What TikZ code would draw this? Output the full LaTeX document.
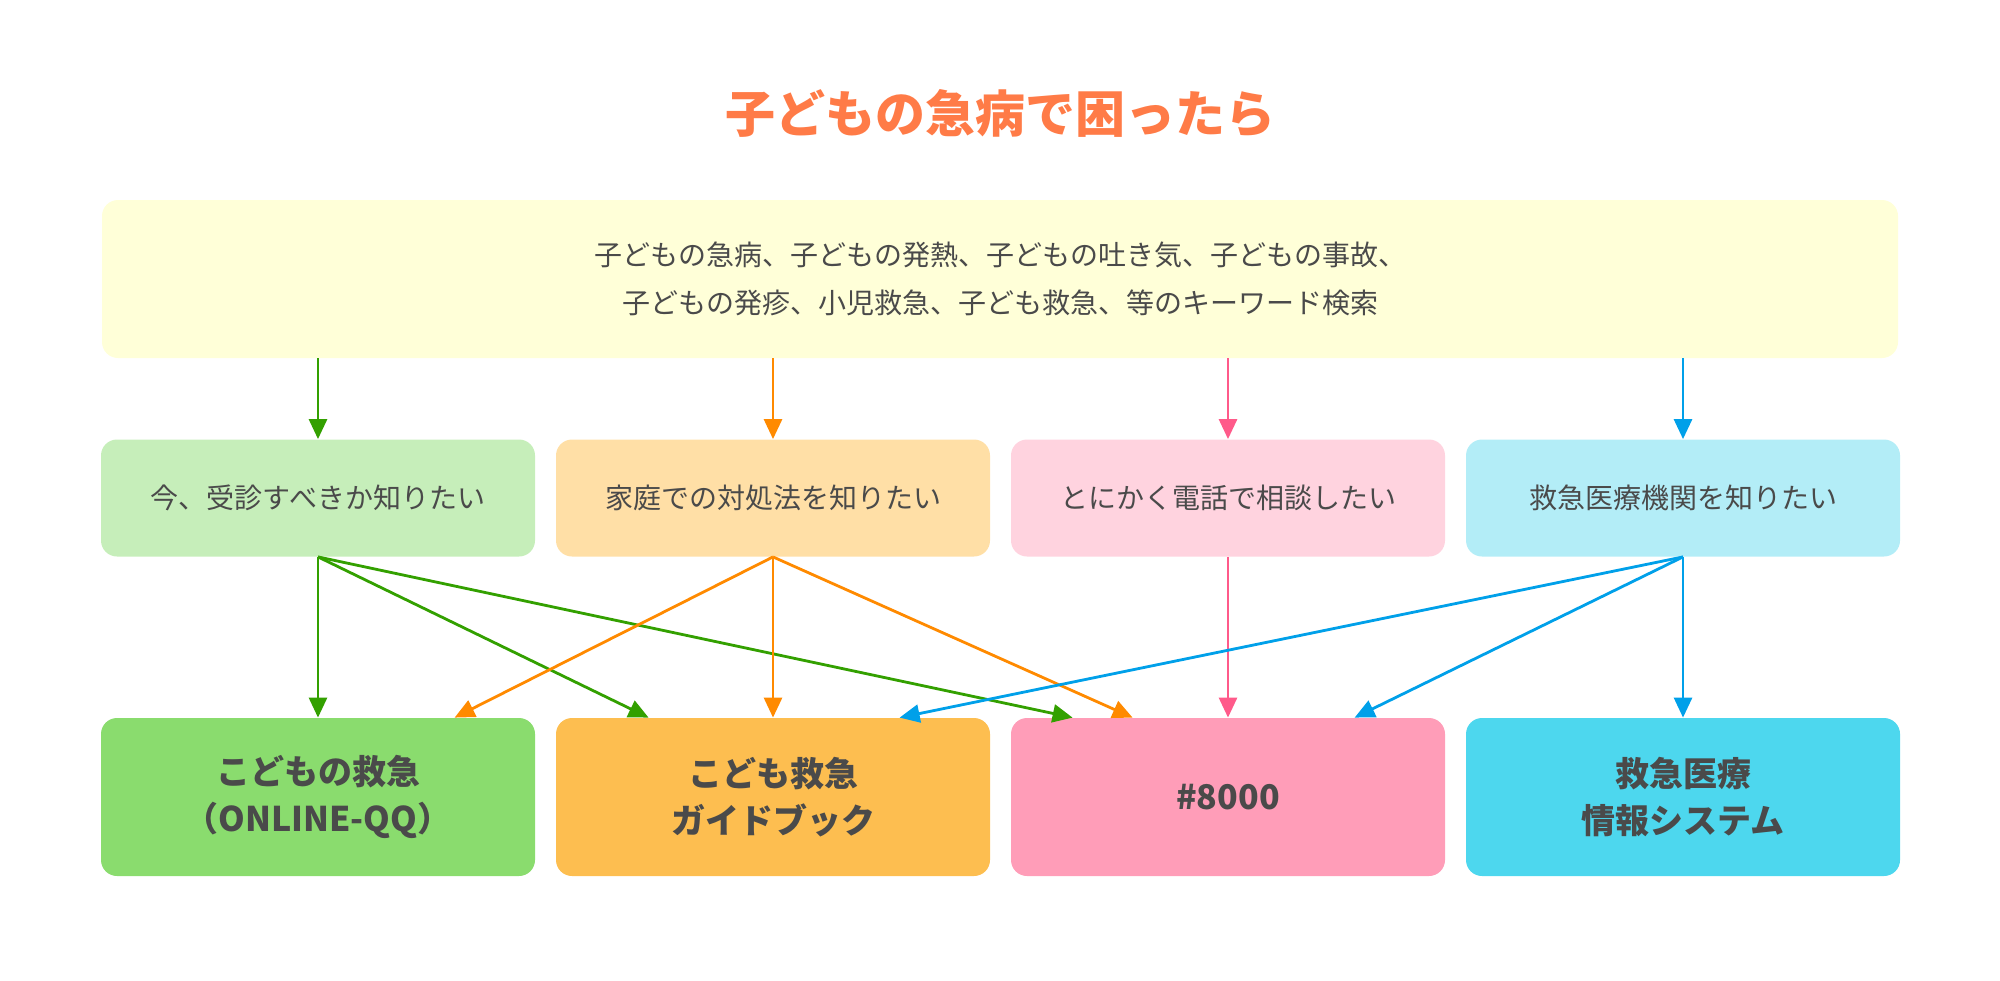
\documentclass[tikz,border=0pt]{standalone}
\usepackage{fontspec}
\setmainfont{Noto Sans CJK JP}
\usetikzlibrary{arrows.meta}

\definecolor{titleorange}{HTML}{FF7B47}
\definecolor{textgray}{HTML}{4A4A4A}
\definecolor{keyyellow}{HTML}{FFFFD8}
\definecolor{qgreen}{HTML}{C6EEBA}
\definecolor{qorange}{HTML}{FFDFA6}
\definecolor{qpink}{HTML}{FFD3DF}
\definecolor{qblue}{HTML}{B3EDF7}
\definecolor{sgreen}{HTML}{8ADC6E}
\definecolor{sorange}{HTML}{FDBE50}
\definecolor{spink}{HTML}{FF9DB8}
\definecolor{sblue}{HTML}{4DD7EE}
\definecolor{lgreen}{HTML}{33A000}
\definecolor{lorange}{HTML}{FF8A00}
\definecolor{lpink}{HTML}{FF5A8A}
\definecolor{lblue}{HTML}{00A0E9}

\begin{document}
\begin{tikzpicture}[x=0.5pt,y=-0.5pt,>={Triangle[length=10pt,width=9pt]},
    qbox/.style={minimum width=217pt,minimum height=58.5pt,font=\fontsize{14}{20}\selectfont},
    sbox/.style={minimum width=217pt,minimum height=79pt,font=\bfseries\fontsize{17}{23.5}\selectfont}]
\useasboundingbox (0,0) rectangle (2000,980);

\node[text=titleorange,font=\bfseries\fontsize{25}{30}\selectfont] (title) at (1000,113) {子どもの急病で困ったら};

\begin{scope}[every node/.style={rounded corners=8pt,inner sep=0pt,align=center,text=textgray}]
    \node[fill=keyyellow,minimum width=898pt,minimum height=79pt,font=\fontsize{14}{24}\selectfont] (k) at (1000,279)
        {子どもの急病、子どもの発熱、子どもの吐き気、子どもの事故、\\子どもの発疹、小児救急、子ども救急、等のキーワード検索};
    \node[qbox,fill=qgreen] (q1) at (318,498) {今、受診すべきか知りたい};
    \node[qbox,fill=qorange] (q2) at (773,498) {家庭での対処法を知りたい};
    \node[qbox,fill=qpink] (q3) at (1228,498) {とにかく電話で相談したい};
    \node[qbox,fill=qblue] (q4) at (1683,498) {救急医療機関を知りたい};
    \node[sbox,fill=sgreen] (s1) at (318,797) {こどもの救急\\（ONLINE-QQ）};
    \node[sbox,fill=sorange] (s2) at (773,797) {こども救急\\ガイドブック};
    \node[sbox,fill=spink] (s3) at (1228,797) {\#8000};
    \node[sbox,fill=sblue] (s4) at (1683,797) {救急医療\\情報システム};
\end{scope}

\begin{scope}[line width=1.4pt]
    \draw[->,lgreen] (k.south -| q1.north) -- (q1.north);
    \draw[->,lorange] (k.south -| q2.north) -- (q2.north);
    \draw[->,lpink] (k.south -| q3.north) -- (q3.north);
    \draw[->,lblue] (k.south -| q4.north) -- (q4.north);

    \draw[->,lgreen] (q1.south) -- (s1.north);
    \draw[->,lgreen] (q1.south) -- ([xshift=46.5pt]s2.north west);
    \draw[->,lgreen] (q1.south) -- ([xshift=31pt]s3.north west);
    \draw[->,lorange] (q2.south) -- ([xshift=177pt]s1.north west);
    \draw[->,lorange] (q2.south) -- (s2.north);
    \draw[->,lorange] (q2.south) -- ([xshift=61pt]s3.north west);
    \draw[->,lpink] (q3.south) -- (s3.north);
    \draw[->,lblue] (q4.south) -- ([xshift=172pt]s2.north west);
    \draw[->,lblue] (q4.south) -- ([xshift=172pt]s3.north west);
    \draw[->,lblue] (q4.south) -- (s4.north);
\end{scope}
\end{tikzpicture}
\end{document}
